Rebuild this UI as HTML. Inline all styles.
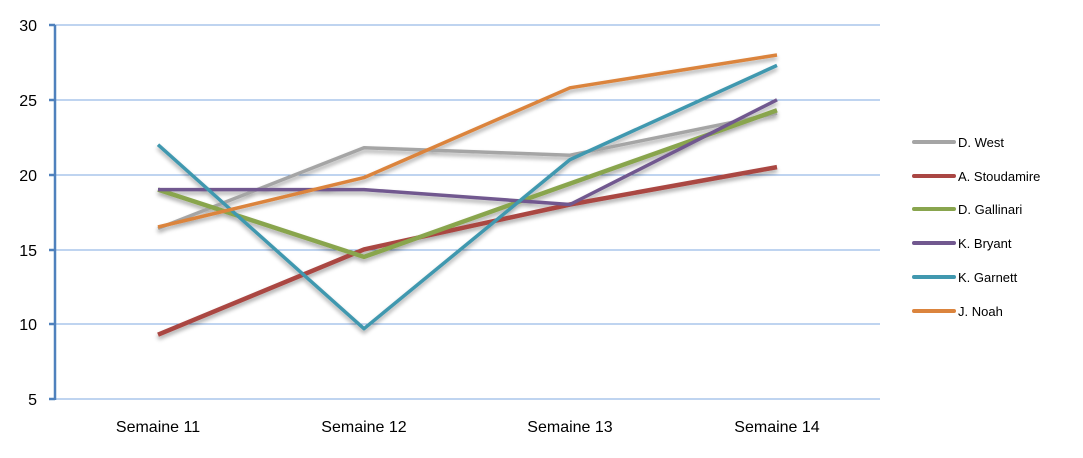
<!DOCTYPE html>
<html><head><meta charset="utf-8"><style>
body{margin:0;background:#fff}
text{font-family:"Liberation Sans",sans-serif;fill:#000}
</style></head><body>
<svg width="1083" height="453" viewBox="0 0 1083 453">
<defs><filter id="sh" x="-10%" y="-10%" width="120%" height="130%"><feGaussianBlur in="SourceAlpha" stdDeviation="2"/><feOffset dx="0" dy="3"/><feComponentTransfer><feFuncA type="linear" slope="0.35"/></feComponentTransfer><feMerge><feMergeNode/><feMergeNode in="SourceGraphic"/></feMerge></filter></defs>
<g stroke="#7fa9e0" stroke-width="1">
<line x1="55" y1="25" x2="880" y2="25"/>
<line x1="55" y1="100" x2="880" y2="100"/>
<line x1="55" y1="175" x2="880" y2="175"/>
<line x1="55" y1="250" x2="880" y2="250"/>
<line x1="55" y1="324" x2="880" y2="324"/>
<line x1="55" y1="399" x2="880" y2="399"/>
</g>
<g stroke="#4f81bd" stroke-width="2.5">
<line x1="55" y1="25" x2="55" y2="400"/>
<line x1="49" y1="25" x2="55" y2="25"/><line x1="49" y1="100" x2="55" y2="100"/><line x1="49" y1="175" x2="55" y2="175"/><line x1="49" y1="250" x2="55" y2="250"/><line x1="49" y1="324" x2="55" y2="324"/><line x1="49" y1="399" x2="55" y2="399"/>
</g>
<g font-size="16" text-anchor="end">
<text x="37" y="31">30</text><text x="37" y="106">25</text><text x="37" y="181">20</text><text x="37" y="256">15</text><text x="37" y="330">10</text><text x="37" y="405">5</text>
</g>
<g font-size="16" text-anchor="middle">
<text x="158" y="432">Semaine 11</text><text x="364" y="432">Semaine 12</text><text x="570" y="432">Semaine 13</text><text x="777" y="432">Semaine 14</text>
</g>
<g fill="none" stroke-linejoin="round" filter="url(#sh)">
<polyline stroke="#a5a5a5" stroke-width="3.5" points="158,228.5 364,147.7 570,155.2 777,113.3"/>
<polyline stroke="#aa4643" stroke-width="4.5" points="158,334.7 364,249.4 570,204.5 777,167.1"/>
<polyline stroke="#89a54e" stroke-width="4.5" points="158,189.6 364,256.9 570,183.6 777,110.3"/>
<polyline stroke="#71588f" stroke-width="3.5" points="158,189.6 364,189.6 570,204.5 777,99.8"/>
<polyline stroke="#4198af" stroke-width="3.5" points="158,144.7 364,328.7 570,159.6 777,65.4"/>
<polyline stroke="#db843d" stroke-width="3.5" points="158,227 364,177.6 570,87.8 777,55"/>
</g>
<g stroke-width="4" stroke-linecap="round">
<line x1="914" y1="142" x2="954" y2="142" stroke="#a5a5a5"/>
<line x1="914" y1="176" x2="954" y2="176" stroke="#aa4643"/>
<line x1="914" y1="209" x2="954" y2="209" stroke="#89a54e"/>
<line x1="914" y1="243" x2="954" y2="243" stroke="#71588f"/>
<line x1="914" y1="277" x2="954" y2="277" stroke="#4198af"/>
<line x1="914" y1="311" x2="954" y2="311" stroke="#db843d"/>
</g>
<g font-size="13">
<text x="958" y="147">D. West</text><text x="958" y="181">A. Stoudamire</text><text x="958" y="214">D. Gallinari</text><text x="958" y="248">K. Bryant</text><text x="958" y="282">K. Garnett</text><text x="958" y="316">J. Noah</text>
</g>
</svg>
</body></html>
